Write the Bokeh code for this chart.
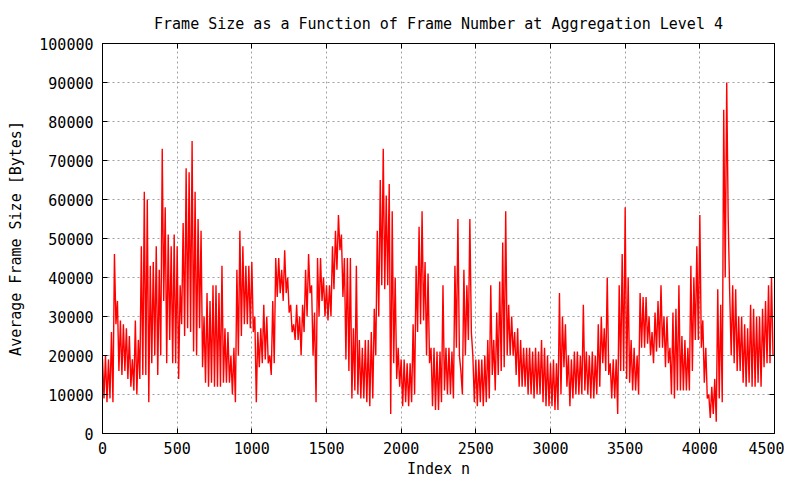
from bokeh.plotting import figure
from bokeh.models import Range1d, LinearAxis, FixedTicker, BasicTickFormatter
from bokeh.embed import file_html
from bokeh.resources import INLINE

# Frame-size envelope: for every block of 20 frames,
# the highest and the lowest average frame size (thousands of bytes).
block_len = 20
block_high = [
    19, 20, 19, 26, 46, 34, 29, 28, 27, 25, 19, 29, 24, 48, 62, 60, 43, 44, 48, 42,
    73, 58, 51, 48, 51, 48, 38, 54, 68, 67, 75, 62, 55, 52, 30, 36, 34, 38,
    38, 36, 43, 27, 26, 20, 22, 42, 52, 48, 43, 43, 44, 30, 26, 27, 33, 30, 20, 34,
    45, 45, 42, 47, 40, 33, 28, 33, 30, 33, 42, 46, 38, 31, 45, 45, 40,
    38, 38, 48, 52, 56, 51, 45, 45, 45, 27, 43, 24, 22, 24, 24, 26, 32, 52, 65, 73,
    61, 64, 57, 40, 22, 19, 19, 18, 18, 28, 43, 53, 57, 44, 41, 22, 22,
    21, 21, 38, 22, 22, 21, 43, 55, 16, 42, 38, 55, 20, 19, 19, 19, 20, 24, 38, 24,
    31, 39, 49, 57, 33, 30, 26, 27, 24, 22, 22, 22, 21, 22, 21, 24, 22,
    20, 18, 19, 18, 36, 30, 28, 20, 19, 21, 21, 20, 33, 21, 20, 21, 20, 28, 30, 27,
    40, 18, 19, 19, 38, 46, 58, 40, 24, 22, 20, 36, 35, 35, 30, 26, 31,
    34, 38, 30, 30, 22, 31, 32, 38, 25, 24, 22, 43, 40, 48, 56, 29, 22, 10, 12, 14,
    37, 33, 83, 90, 36, 38, 37, 30, 30, 28, 27, 33, 32, 30, 30, 32, 34, 38, 40,
]
block_low = [
    9, 8, 9, 8, 28, 16, 15, 16, 14, 12, 11, 10, 14, 15, 15, 8, 18, 20, 15, 20,
    34, 18, 24, 18, 18, 14, 28, 25, 27, 26, 21, 20, 27, 17, 13, 12, 13, 12,
    12, 12, 13, 13, 13, 10, 8, 20, 25, 28, 28, 27, 26, 8, 17, 18, 19, 18, 15, 18,
    35, 36, 34, 36, 31, 26, 24, 24, 20, 26, 30, 36, 20, 8, 30, 34, 30,
    29, 30, 37, 42, 47, 35, 19, 16, 9, 11, 10, 9, 9, 8, 7, 9, 20, 30, 38, 37,
    38, 5, 18, 14, 12, 7, 8, 7, 8, 10, 26, 28, 29, 20, 18, 7, 6,
    6, 8, 11, 10, 10, 9, 22, 20, 10, 20, 24, 26, 8, 7, 8, 7, 8, 9, 15, 11,
    15, 16, 17, 20, 20, 20, 15, 12, 12, 12, 10, 10, 9, 10, 10, 8, 7,
    7, 7, 6, 6, 10, 17, 12, 7, 9, 10, 10, 10, 11, 10, 9, 9, 10, 12, 18, 16,
    15, 9, 9, 5, 16, 16, 14, 13, 11, 11, 10, 22, 22, 23, 20, 18, 21,
    22, 22, 17, 18, 10, 9, 11, 11, 11, 11, 11, 16, 24, 24, 22, 13, 9, 4, 5, 3,
    9, 8, 40, 55, 20, 18, 16, 16, 13, 12, 13, 12, 12, 13, 12, 17, 18, 18, 20,
]

# the trace visits each block's high, then its low
frame_index = []
frame_bytes = []
for i in range(len(block_high)):
    frame_index += [i * block_len, i * block_len + block_len // 2]
    frame_bytes += [block_high[i] * 1000, block_low[i] * 1000]

x_ticks = [0, 500, 1000, 1500, 2000, 2500, 3000, 3500, 4000, 4500]
y_ticks = [0, 10000, 20000, 30000, 40000, 50000, 60000, 70000, 80000, 90000, 100000]

title_text = "Frame Size as a Function of Frame Number at Aggregation Level 4"
x_label = "Index n"
y_label = "Average Frame Size [Bytes]"

FONT = "DejaVu Sans Mono"
FS = "15px"

p = figure(width=784, height=480, output_backend="svg", toolbar_location=None,
           x_range=Range1d(0, 4500), y_range=Range1d(0, 100000),
           min_border_left=102, min_border_right=10, min_border_top=43, min_border_bottom=47)
p.background_fill_color = "white"
p.border_fill_color = "white"
p.outline_line_color = "black"
p.outline_line_width = 1

p.title.text = title_text
p.title.align = "center"
p.title.text_font = FONT
p.title.text_font_size = FS
p.title.text_font_style = "normal"
p.title.text_color = "black"
p.title.standoff = 22

for ax in (p.xaxis[0], p.yaxis[0]):
    ax.major_tick_in = 5
    ax.major_tick_out = 0
    ax.minor_tick_in = 0
    ax.minor_tick_out = 0
    ax.axis_line_color = "black"
    ax.major_tick_line_color = "black"
    ax.major_label_text_font = FONT
    ax.major_label_text_font_size = FS
    ax.major_label_text_color = "black"
    ax.axis_label_text_font = FONT
    ax.axis_label_text_font_size = FS
    ax.axis_label_text_font_style = "normal"
    ax.axis_label_text_color = "black"

p.xaxis.ticker = FixedTicker(ticks=x_ticks)
p.yaxis.ticker = FixedTicker(ticks=y_ticks)
p.yaxis.formatter = BasicTickFormatter(use_scientific=False)
p.xaxis.formatter = BasicTickFormatter(use_scientific=False)
p.xaxis.major_label_standoff = 8
p.yaxis.major_label_standoff = 9
p.xaxis.axis_label = x_label
p.xaxis.axis_label_standoff = 3
p.yaxis.axis_label = y_label
p.yaxis.axis_label_standoff = 11

# mirrored ticks on top and right (labels not drawn)
right = LinearAxis(ticker=FixedTicker(ticks=y_ticks), major_label_text_font_size="1px",
                   major_label_text_alpha=0, major_label_text_color=None,
                   major_tick_in=5, major_tick_out=0, minor_tick_in=0, minor_tick_out=0,
                   major_label_standoff=0, axis_line_color="black")
top = LinearAxis(ticker=FixedTicker(ticks=x_ticks), major_label_text_font_size="1px",
                 major_label_text_alpha=0, major_label_text_color=None,
                 major_tick_in=5, major_tick_out=0, minor_tick_in=0, minor_tick_out=0,
                 major_label_standoff=0, axis_line_color="black")
p.add_layout(right, "right")
p.add_layout(top, "above")

p.xgrid.grid_line_color = "#a0a0a0"
p.ygrid.grid_line_color = "#a0a0a0"
p.xgrid.grid_line_dash = "2 3"
p.ygrid.grid_line_dash = "2 3"

p.line(frame_index, frame_bytes, line_color="#ff0000", line_width=1.4)

open("out.html", "w").write(file_html(p, INLINE))
